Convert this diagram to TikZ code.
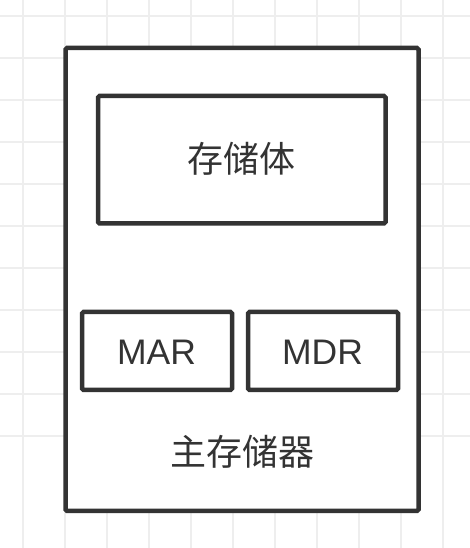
\documentclass[tikz,border=0pt]{standalone}
\usepackage{fontspec}
\setmainfont{Liberation Sans}
\newfontfamily\cjk{Noto Sans CJK SC}
\definecolor{ink}{HTML}{333333}
\definecolor{gridc}{HTML}{EEEEEE}
\begin{document}
\begin{tikzpicture}[x=1pt,y=1pt,
  box/.style={draw=ink, line width=4.5pt, rounded corners=1.5pt, inner sep=0pt, fill=white},
  lbl/.style={text=ink, inner sep=0pt, font=\fontsize{35.5}{40}\selectfont}]
\useasboundingbox (0,0) rectangle (470,548);
\fill[white] (0,0) rectangle (470,548);
\foreach \i in {0,...,10} {
  \draw[gridc, line width=2pt] (23+42*\i,0) -- (23+42*\i,548);
  \draw[gridc, line width=2pt] (0,532-42*\i) -- (470,532-42*\i);
}
\node[box, minimum width=353pt, minimum height=463pt] (outer) at (242,268.5) {};
\node[box, minimum width=287.5pt, minimum height=127.5pt] (store) at (241.75,388.25) {};
\node[lbl, font=\cjk\fontsize{36}{40}\selectfont] (storelbl) at (241.5,389) {存储体};
\node[box, minimum width=150pt, minimum height=78pt] (mar) at (157,197) {};
\node[lbl] (marlbl) at (156.5,196) {MAR};
\node[box, minimum width=150pt, minimum height=78pt] (mdr) at (323,197) {};
\node[lbl] (mdrlbl) at (322.5,196) {MDR};
\node[lbl, font=\cjk\fontsize{36}{40}\selectfont] (mainlbl) at (242.5,96) {主存储器};
\end{tikzpicture}
\end{document}
